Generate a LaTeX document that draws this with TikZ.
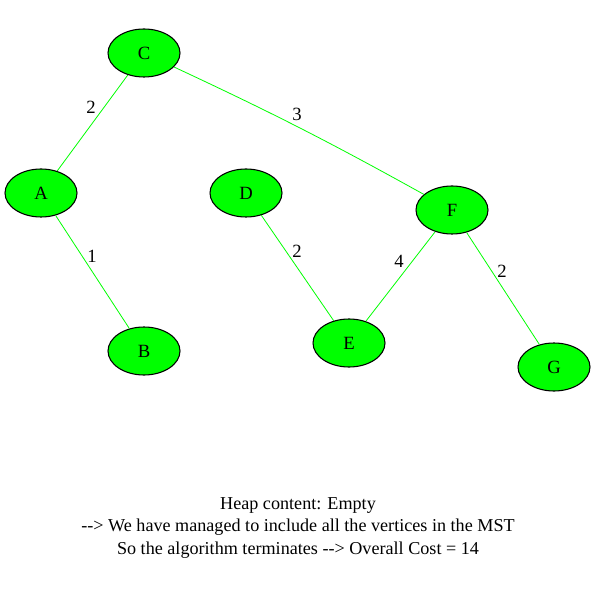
\documentclass[tikz,border=0pt]{standalone}
\usepackage{fontspec}
\setmainfont{Liberation Serif}
\usetikzlibrary{shapes.geometric}
\definecolor{vgreen}{HTML}{00FF00}
\tikzset{
  vertex/.style={ellipse, draw=black, fill=vgreen, thick, minimum width=54pt, minimum height=36pt, inner sep=0pt, font=\fontsize{14}{16}\selectfont},
  mstedge/.style={draw=vgreen, line width=0.6pt},
  wlabel/.style={font=\fontsize{14}{16}\selectfont, inner sep=0pt}
}
\begin{document}
\begin{tikzpicture}[x=0.75pt, y=-0.75pt]
  \useasboundingbox (0,0) rectangle (596,595);
  \fill[white] (0,0) rectangle (596,595);
  % vertices
  \node[vertex] (C) at (144,53) {C};
  \node[vertex] (A) at (41,193) {A};
  \node[vertex] (B) at (144,351) {B};
  \node[vertex] (D) at (246,193) {D};
  \node[vertex] (E) at (349,343) {E};
  \node[vertex] (F) at (452,210) {F};
  \node[vertex] (G) at (554,367) {G};
  % edges of the tree
  \draw[mstedge] (C) -- (A);
  \draw[mstedge] (C) to[bend left=2] (F);
  \draw[mstedge] (A) -- (B);
  \draw[mstedge] (D) -- (E);
  \draw[mstedge] (F) -- (E);
  \draw[mstedge] (F) -- (G);
  % weights
  \node[wlabel] (wCA) at (91,107) {2};
  \node[wlabel] (wCF) at (297,114) {3};
  \node[wlabel] (wAB) at (92,256) {1};
  \node[wlabel] (wDE) at (297,251) {2};
  \node[wlabel] (wFE) at (399,261) {4};
  \node[wlabel] (wFG) at (502,271) {2};
  % caption
  \node[align=center, font=\fontsize{13.6}{17}\selectfont, inner sep=0pt] (info) at (298,528)
    {Heap content: Empty\\-{}-> We have managed to include all the vertices in the MST\\So the algorithm terminates -{}-> Overall Cost = 14};
\end{tikzpicture}
\end{document}
